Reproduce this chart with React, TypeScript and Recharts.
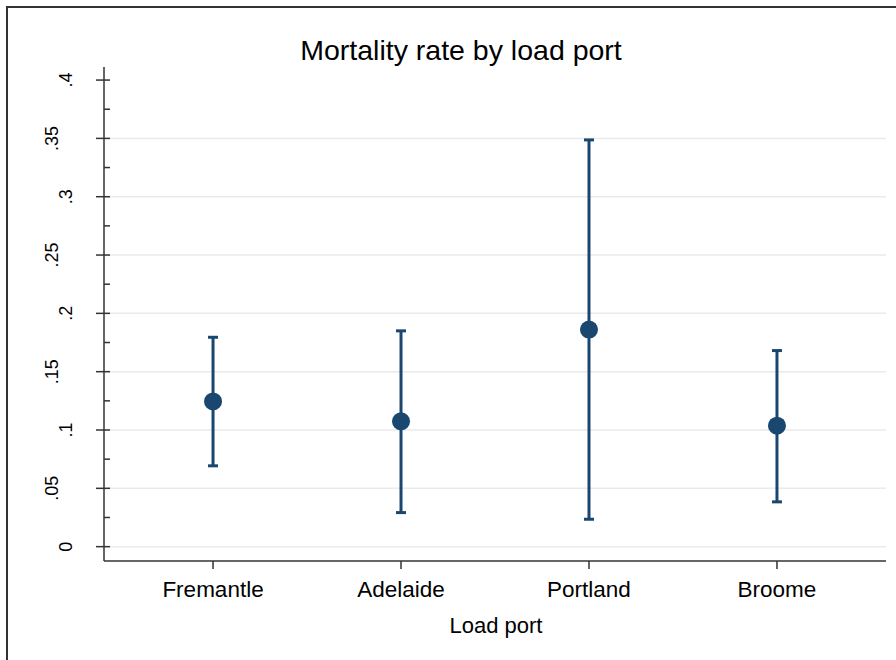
import {ComposedChart, ErrorBar, ReferenceLine, Scatter, XAxis, YAxis} from "recharts";

const ports = ["Fremantle", "Adelaide", "Portland", "Broome"];
const portIndex = [1, 2, 3, 4];
const meanRate = [0.1245, 0.1074, 0.1861, 0.1037];
const lowerCi = [0.0693, 0.0292, 0.0235, 0.0384];
const upperCi = [0.1795, 0.185, 0.3487, 0.1681];

const majorTicks = [0, 0.05, 0.1, 0.15, 0.2, 0.25, 0.3, 0.35, 0.4];
const majorLabels = ["0", ".05", ".1", ".15", ".2", ".25", ".3", ".35", ".4"];
const minorTicks = [0.025, 0.075, 0.125, 0.175, 0.225, 0.275, 0.325, 0.375];
const gridValues = [0, 0.05, 0.1, 0.15, 0.2, 0.25, 0.3, 0.35];

const navy = "#1a476f";
const axisColor = "#333";
const font = "'Liberation Sans', Arial, Helvetica, sans-serif";

const data = portIndex.map((x, i) => ({
    x,
    port: ports[i],
    mean: meanRate[i],
    err: [meanRate[i] - lowerCi[i], upperCi[i] - meanRate[i]],
}));

function YTick(props: any) {
    const {x, y, payload} = props;
    const v = payload.value;
    const idx = majorTicks.findIndex(t => Math.abs(t - v) < 1e-6);
    if (idx < 0) {
        // minor tick, inside the axis
        return <line x1={x} x2={x + 6} y1={y} y2={y} stroke={axisColor} strokeWidth={1.5}/>;
    }
    // stata "alternate" labels
    const labelX = idx % 2 === 1 ? x - 46 : x - 32;
    return <g>
        <line x1={x - 8} x2={x + 6} y1={y} y2={y} stroke={axisColor} strokeWidth={1.5}/>
        <text x={labelX} y={y} transform={`rotate(-90, ${labelX}, ${y})`} textAnchor="middle"
              fontSize={18} fontFamily={font} fill="#000">{majorLabels[idx]}</text>
    </g>;
}

function Dot(props: any) {
    return <circle cx={props.cx} cy={props.cy} r={9} fill={navy}/>;
}

export default function App() {
    return <div style={{position: "fixed", left: 0, top: 0, width: 896, height: 660, overflow: "hidden", background: "#fff"}}>
        <svg width={896} height={660} style={{position: "absolute", left: 0, top: 0}}>
            <rect x={7} y={7} width={1000} height={1000} fill="none" stroke={axisColor} strokeWidth={2}/>
            <text x={461} y={60} textAnchor="middle" fontSize={28.5} fontFamily={font} fill="#000">
                Mortality rate by load port
            </text>
            <text x={496} y={633} textAnchor="middle" fontSize={22} fontFamily={font} fill="#000">
                Load port
            </text>
        </svg>
        <div style={{position: "absolute", left: 0, top: 0}}>
            <ComposedChart width={896} height={660} data={data}
                           margin={{top: 67, right: 10, bottom: 0, left: 0}}>
                <XAxis type="number" dataKey="x" domain={[0.42, 4.58]} ticks={portIndex}
                       allowDataOverflow height={99}
                       tickFormatter={(v: number) => ports[v - 1]}
                       axisLine={{stroke: axisColor, strokeWidth: 1.5}}
                       tickLine={{stroke: axisColor, strokeWidth: 1.5}}
                       tickSize={8} tickMargin={12}
                       tick={{fontSize: 22.5, fontFamily: font, fill: "#000"}}/>
                <YAxis type="number" domain={[-0.0123, 0.4112]} allowDataOverflow width={104}
                       ticks={[...majorTicks, ...minorTicks]} interval={0}
                       tickSize={0} tickMargin={0} tickLine={false}
                       axisLine={{stroke: axisColor, strokeWidth: 1.5}}
                       tick={<YTick/>}/>
                {gridValues.map(v =>
                    <ReferenceLine key={v} y={v} stroke="#eaeaea" strokeWidth={1.5}/>)}
                <Scatter dataKey="mean" fill={navy} shape={<Dot/>} isAnimationActive={false}>
                    <ErrorBar dataKey="err" direction="y" width={5} stroke={navy} strokeWidth={3}
                              isAnimationActive={false}/>
                </Scatter>
            </ComposedChart>
        </div>
    </div>;
}
